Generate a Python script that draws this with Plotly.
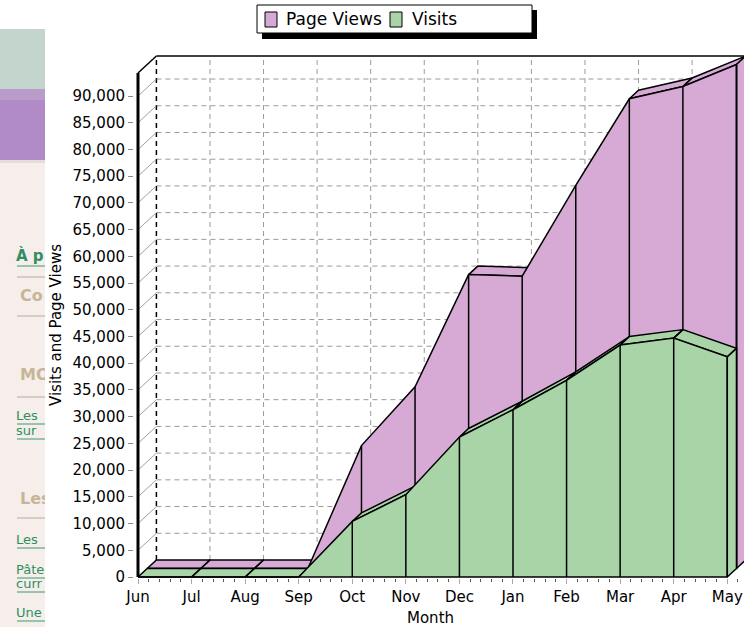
import plotly.graph_objects as go

# ---------------- data ----------------
months = ["Jun", "Jul", "Aug", "Sep", "Oct", "Nov", "Dec", "Jan", "Feb", "Mar", "Apr", "May"]
visits = [0, 0, 0, 0, 10400, 15400, 26200, 31300, 36800, 43400, 44700, 41200]
page_views = [0, 0, 0, 0, 23000, 34000, 55000, 54700, 71700, 87900, 90200, 94300]
y_tick_values = list(range(0, 90001, 5000))
y_tick_labels = [f"{v:,}" for v in y_tick_values]
series_names = ["Page Views", "Visits"]

# ---------------- styling / geometry ----------------
W, H = 744, 627
FONT = "DejaVu Sans"
PINK = "#d7aad6"
GREEN = "#a8d4a8"
PX_MONTH = 53.57          # pixels per month
PX_UNIT = 26.72 / 5000    # pixels per value unit
X0_PX, Y0_PX = 138, 577   # pixel position of (Jun, 0) on the front plane
DX = 9.2 / PX_MONTH       # depth offset of one series slice (month units)
DY = 8.5 / PX_UNIT        # depth offset of one series slice (value units)

dom_left, dom_bottom, dom_top = 134, 578, 45
x_range = [(dom_left - X0_PX) / PX_MONTH, (W - X0_PX) / PX_MONTH]
y_range = [(Y0_PX - dom_bottom) / PX_UNIT, (Y0_PX - dom_top) / PX_UNIT]
top_val = max(page_views)
xs = list(range(len(months)))

fig = go.Figure()


def add_series(vals, depth, color, name):
    ox0, oy0 = depth * DX, depth * DY
    ox1, oy1 = (depth + 1) * DX, (depth + 1) * DY
    n = len(vals)
    # visible top faces
    qx, qy = [], []
    for i in range(n - 1):
        slope = vals[i + 1] - vals[i]
        if slope < DY / DX:
            qx += [xs[i] + ox0, xs[i + 1] + ox0, xs[i + 1] + ox1, xs[i] + ox1, xs[i] + ox0, None]
            qy += [vals[i] + oy0, vals[i + 1] + oy0, vals[i + 1] + oy1, vals[i] + oy1, vals[i] + oy0, None]
    fig.add_trace(go.Scatter(x=qx, y=qy, mode="lines", fill="toself", fillcolor=color,
                             line=dict(color="black", width=1.5), hoverinfo="skip",
                             showlegend=False, name=name))
    # right end face
    fig.add_trace(go.Scatter(
        x=[xs[-1] + ox0, xs[-1] + ox0, xs[-1] + ox1, xs[-1] + ox1, xs[-1] + ox0],
        y=[oy0, vals[-1] + oy0, vals[-1] + oy1, oy1, oy0],
        mode="lines", fill="toself", fillcolor=color,
        line=dict(color="black", width=1.5), hoverinfo="skip", showlegend=False, name=name))
    # front face
    fx = [x + ox0 for x in xs] + [xs[-1] + ox0, xs[0] + ox0, xs[0] + ox0]
    fy = [v + oy0 for v in vals] + [oy0, oy0, vals[0] + oy0]
    fig.add_trace(go.Scatter(x=fx, y=fy, mode="lines", fill="toself", fillcolor=color,
                             line=dict(color="black", width=1.5), hoverinfo="skip",
                             showlegend=False, name=name))
    # vertical separators on the front face
    vx, vy = [], []
    for i in range(n):
        if vals[i] > 0:
            vx += [xs[i] + ox0, xs[i] + ox0, None]
            vy += [oy0, vals[i] + oy0, None]
    fig.add_trace(go.Scatter(x=vx, y=vy, mode="lines", line=dict(color="black", width=1.5),
                             hoverinfo="skip", showlegend=False, name=name))


add_series(page_views, 1, PINK, series_names[0])
add_series(visits, 0, GREEN, series_names[1])

shapes = []
# back wall grid
BX, BY = 2 * DX, 2 * DY
for v in y_tick_values[1:]:
    shapes.append(dict(type="line", xref="x", yref="y", x0=BX, x1=x_range[1], y0=v + BY, y1=v + BY,
                       line=dict(color="#9a9a9a", width=1, dash="5px,4px"), layer="below"))
for i in xs:
    shapes.append(dict(type="line", xref="x", yref="y", x0=i + BX, x1=i + BX, y0=BY, y1=top_val + BY,
                       line=dict(color="black" if i == 0 else "#9a9a9a", width=1.5 if i == 0 else 1,
                                 dash="5px,4px"), layer="below"))
# left wall diagonals
for v in y_tick_values:
    shapes.append(dict(type="line", xref="x", yref="y", x0=0, x1=BX, y0=v, y1=v + BY,
                       line=dict(color="#a0a0a0", width=1), layer="below"))
# box top edges
shapes.append(dict(type="line", xref="x", yref="y", x0=0, x1=BX, y0=top_val, y1=top_val + BY,
                   line=dict(color="black", width=1.5), layer="below"))
shapes.append(dict(type="line", xref="x", yref="y", x0=BX, x1=x_range[1], y0=top_val + BY, y1=top_val + BY,
                   line=dict(color="black", width=1.5), layer="below"))
# front vertical axis line
shapes.append(dict(type="line", xref="x", yref="y", x0=0, x1=0, y0=0, y1=top_val,
                   line=dict(color="black", width=3), layer="above"))

# ---------- webpage strip at the left (background of the screenshot) ----------
def strip_rect(y0, y1, color):
    shapes.append(dict(type="rect", xref="x2", yref="y2", x0=0, x1=45, y0=y0, y1=y1,
                       fillcolor=color, line=dict(width=0), layer="below"))

strip_rect(29, 89, "#c3d5cc")
strip_rect(89, 100, "#b99cc9")
strip_rect(100, 160, "#b08bc7")
strip_rect(160, 163, "#e6ddd8")
strip_rect(163, 627, "#f5eeea")
for yl in [277, 316, 397, 518]:
    shapes.append(dict(type="line", xref="x2", yref="y2", x0=17, x1=45, y0=yl, y1=yl,
                       line=dict(color="#b9ad9c", width=1), layer="below"))
for yl in [266, 424, 439, 548, 578, 592, 621]:
    shapes.append(dict(type="line", xref="x2", yref="y2", x0=17, x1=45, y0=yl, y1=yl,
                       line=dict(color="#3a9a70", width=1), layer="below"))

fig.add_trace(go.Scatter(
    x=[16, 16, 16, 16, 16, 16, 16], y=[257, 417, 432, 541, 571, 585, 614],
    text=["<b>À p</b>", "Les", "sur", "Les", "Pâte", "curr", "Une"],
    mode="text", textposition="middle right", cliponaxis=True,
    textfont=dict(family=FONT, size=[15, 13, 13, 13, 13, 13, 13], color="#2f8f62"),
    xaxis="x2", yaxis="y2", hoverinfo="skip", showlegend=False))
fig.add_trace(go.Scatter(
    x=[20, 20, 20], y=[297, 376, 500],
    text=["<b>Co</b>", "<b>MO</b>", "<b>Les</b>"],
    mode="text", textposition="middle right", cliponaxis=True,
    textfont=dict(family=FONT, size=16, color="#c8b598"),
    xaxis="x2", yaxis="y2", hoverinfo="skip", showlegend=False))

# ---------- legend (box with shadow) ----------
def px_rect(x0, y0, x1, y1, fill, lw):
    shapes.append(dict(type="rect", xref="paper", yref="paper", x0=x0 / W, x1=x1 / W,
                       y0=1 - y1 / H, y1=1 - y0 / H, fillcolor=fill,
                       line=dict(color="black", width=lw), layer="above"))

px_rect(262, 10, 537, 39, "black", 0)
px_rect(257, 5, 532, 33, "white", 1)
px_rect(265, 12, 277, 27, PINK, 1)
px_rect(390, 12, 402, 27, GREEN, 1)

annotations = [
    dict(text=series_names[0], xref="paper", yref="paper", x=284 / W, y=1 - 19.5 / H,
         xanchor="left", yanchor="middle", showarrow=False, font=dict(family=FONT, size=17, color="black")),
    dict(text=series_names[1], xref="paper", yref="paper", x=410 / W, y=1 - 19.5 / H,
         xanchor="left", yanchor="middle", showarrow=False, font=dict(family=FONT, size=17, color="black")),
    dict(text="Visits and Page Views", xref="paper", yref="paper", x=56 / W, y=1 - 325 / H,
         textangle=-90, xanchor="center", yanchor="middle", showarrow=False,
         font=dict(family=FONT, size=15, color="black")),
    dict(text="Month", xref="paper", yref="paper", x=430 / W, y=1 - 618 / H,
         xanchor="center", yanchor="middle", showarrow=False,
         font=dict(family=FONT, size=15, color="black")),
]

fig.update_layout(
    width=W, height=H, autosize=False,
    margin=dict(l=0, r=0, t=0, b=0, pad=0),
    paper_bgcolor="white", plot_bgcolor="rgba(0,0,0,0)",
    showlegend=False, hovermode=False,
    shapes=shapes, annotations=annotations,
    xaxis=dict(domain=[dom_left / W, 1], range=x_range, tickvals=xs, ticktext=months,
               ticks="outside", ticklen=5, tickcolor="#b89fb0", tickwidth=1,
               tickfont=dict(family=FONT, size=15, color="black"),
               showgrid=False, zeroline=False, showline=False, automargin=False,
               minor=dict(ticks="outside", dtick=0.2, tick0=0, ticklen=3, tickcolor="#555555",
                          showgrid=False),
               fixedrange=True),
    yaxis=dict(domain=[(H - dom_bottom) / H, (H - dom_top) / H], range=y_range,
               tickvals=y_tick_values, ticktext=y_tick_labels,
               ticks="outside", ticklen=5, tickcolor="#8a8a8a",
               tickfont=dict(family=FONT, size=15, color="black"),
               showgrid=False, zeroline=False, showline=False, automargin=False,
               fixedrange=True),
    xaxis2=dict(domain=[0, 45 / W], range=[0, 45], visible=False, anchor="y2", fixedrange=True),
    yaxis2=dict(domain=[0, 1], range=[H, 0], visible=False, anchor="x2", fixedrange=True),
)

fig.write_html("out.html", config={"displayModeBar": False, "staticPlot": True},
               post_script="document.body.style.margin='0';document.body.style.overflow='hidden';")
